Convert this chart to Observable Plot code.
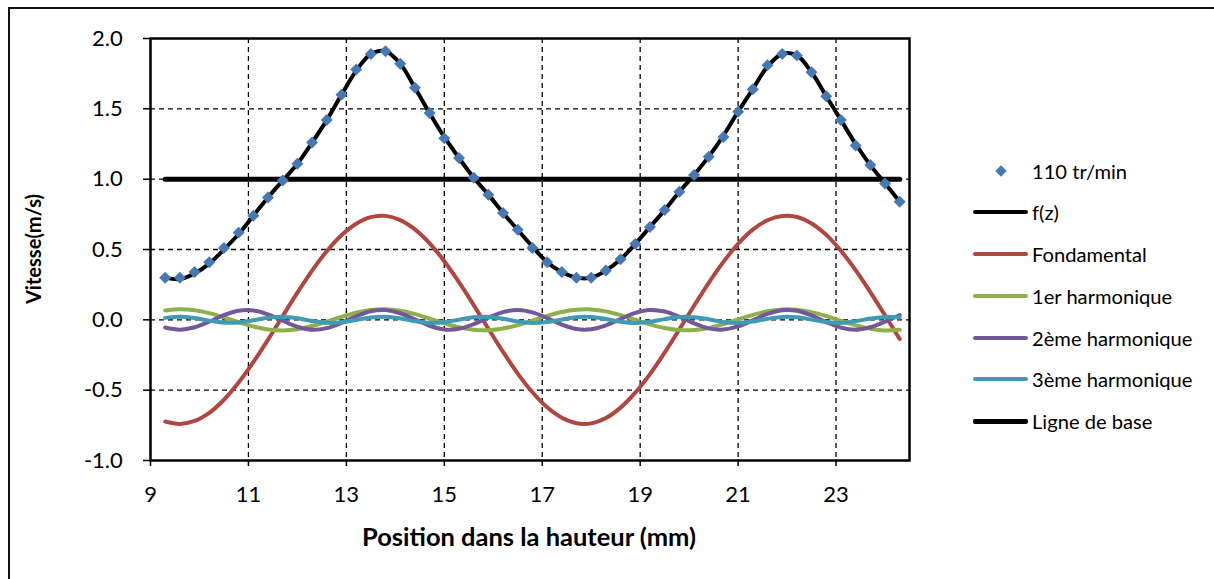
<!DOCTYPE html>
<html><head><meta charset="utf-8">
<script src="https://cdn.jsdelivr.net/npm/d3@7"></script>
<script src="https://cdn.jsdelivr.net/npm/@observablehq/plot@0.6"></script>
<style>
body{margin:0;background:#fff;font-family:Lato,"Open Sans",sans-serif;color:#000;}
#wrap{position:relative;width:1214px;height:579px;overflow:hidden;background:#fff;}
#border{position:absolute;left:8px;top:7px;width:1300px;height:700px;border-top:2px solid #111;border-left:2px solid #111;}
#chart{position:absolute;left:0;top:0;}
.ytitle{position:absolute;left:33px;top:249px;transform:translate(-50%,-50%) rotate(-90deg);font-weight:bold;font-size:19px;white-space:nowrap;}
.xtitle{position:absolute;left:529px;top:536px;transform:translate(-50%,-50%);font-weight:bold;font-size:19px;white-space:nowrap;}
.item{position:absolute;left:973px;height:24px;display:flex;align-items:center;font-size:17px;white-space:nowrap;transform:translateY(-50%);}
.sw{width:55px;height:4px;border-radius:2px;margin-right:4px;flex:none;}
.dm{width:55px;margin-right:4px;display:flex;justify-content:center;flex:none;}
.dm span{display:block;width:8px;height:8px;background:#4678B4;transform:rotate(45deg);}
</style>
</head><body>
<div id="wrap">
  <div id="border"></div>
  <div id="chart"></div>
  <div class="ytitle" id="ytitle">Vitesse(m/s)</div>
  <div class="xtitle" id="xtitle">Position dans la hauteur (mm)</div>
  <div id="legend"></div>
</div>
<script>
const positions = [9.3,9.6,9.9,10.2,10.5,10.8,11.1,11.4,11.7,12.0,12.3,12.6,12.9,13.2,13.5,13.8,14.1,14.4,14.7,15.0,15.3,15.6,15.9,16.2,16.5,16.8,17.1,17.4,17.7,18.0,18.3,18.6,18.9,19.2,19.5,19.8,20.1,20.4,20.7,21.0,21.3,21.6,21.9,22.2,22.5,22.8,23.1,23.4,23.7,24.0,24.3];
const measured = [0.30,0.30,0.34,0.41,0.51,0.62,0.74,0.87,0.99,1.11,1.26,1.42,1.60,1.78,1.89,1.91,1.82,1.65,1.47,1.29,1.15,1.01,0.89,0.76,0.64,0.51,0.41,0.34,0.30,0.30,0.35,0.43,0.54,0.66,0.78,0.91,1.03,1.16,1.30,1.48,1.64,1.81,1.89,1.88,1.76,1.59,1.42,1.24,1.10,0.97,0.84];
const fz = [0.30,0.29,0.33,0.40,0.50,0.61,0.74,0.87,0.99,1.11,1.26,1.42,1.60,1.77,1.89,1.91,1.82,1.65,1.47,1.30,1.15,1.01,0.89,0.76,0.64,0.52,0.41,0.34,0.30,0.30,0.35,0.43,0.54,0.66,0.78,0.91,1.03,1.16,1.31,1.48,1.64,1.80,1.89,1.88,1.76,1.59,1.42,1.25,1.10,0.97,0.84];
const fondamental = [-0.723,-0.740,-0.719,-0.661,-0.568,-0.446,-0.301,-0.141,0.027,0.193,0.350,0.488,0.601,0.683,0.730,0.739,0.709,0.643,0.544,0.417,0.268,0.105,-0.063,-0.228,-0.382,-0.515,-0.622,-0.696,-0.735,-0.736,-0.698,-0.624,-0.518,-0.386,-0.233,-0.068,0.100,0.263,0.412,0.541,0.641,0.708,0.738,0.731,0.685,0.604,0.491,0.353,0.197,0.032,-0.136];
const harm1 = [0.066,0.075,0.068,0.048,0.017,-0.017,-0.047,-0.068,-0.075,-0.067,-0.044,-0.013,0.021,0.050,0.070,0.075,0.065,0.041,0.009,-0.024,-0.053,-0.071,-0.074,-0.062,-0.038,-0.005,0.028,0.056,0.072,0.074,0.060,0.034,0.001,-0.032,-0.058,-0.073,-0.073,-0.058,-0.031,0.003,0.035,0.061,0.074,0.072,0.055,0.027,-0.007,-0.039,-0.063,-0.075,-0.071];
const harm2 = [-0.055,-0.070,-0.053,-0.013,0.034,0.065,0.067,0.039,-0.006,-0.049,-0.070,-0.059,-0.022,0.025,0.061,0.069,0.047,0.003,-0.042,-0.068,-0.064,-0.031,0.016,0.055,0.070,0.053,0.013,-0.034,-0.065,-0.067,-0.039,0.006,0.049,0.070,0.059,0.022,-0.025,-0.061,-0.069,-0.047,-0.003,0.042,0.068,0.064,0.031,-0.016,-0.055,-0.070,-0.053,-0.013,0.034];
const harm3 = [0.014,0.022,0.013,-0.006,-0.020,-0.019,-0.003,0.015,0.022,0.011,-0.008,-0.021,-0.018,-0.001,0.017,0.022,0.010,-0.010,-0.022,-0.017,0.001,0.018,0.021,0.008,-0.012,-0.022,-0.015,0.003,0.019,0.020,0.006,-0.013,-0.022,-0.014,0.005,0.020,0.019,0.004,-0.015,-0.022,-0.012,0.007,0.021,0.018,0.002,-0.016,-0.022,-0.010,0.009,0.021,0.017];
const baselineX = [9.3, 24.3];
const baselineY = [1.0, 1.0];
const xTicks = [9,11,13,15,17,19,21,23];
const yTicks = [-1.0,-0.5,0.0,0.5,1.0,1.5,2.0];
const seriesNames = ["110 tr/min","f(z)","Fondamental","1er harmonique","2ème harmonique","3ème harmonique","Ligne de base"];
const seriesColors = ["#4678B4","#000000","#B0463F","#8DB04A","#72589A","#3E9BB3","#000000"];

const rows = positions.map((x,i)=>({x, m:measured[i], fz:fz[i], f:fondamental[i], h1:harm1[i], h2:harm2[i], h3:harm3[i]}));
const base = baselineX.map((x,i)=>({x, y:baselineY[i]}));
const lineOpts = (key, color, w) => ({x:"x", y:key, stroke:color, strokeWidth:w, curve:"catmull-rom", strokeLinecap:"round", strokeLinejoin:"round"});

const chart = Plot.plot({
  width:1214, height:579,
  marginLeft:150, marginTop:38, marginRight:305, marginBottom:119,
  x:{domain:[9,24.5]},
  y:{domain:[-1,2]},
  style:{fontFamily:"Lato, 'Open Sans', sans-serif", fontSize:"22px", color:"#000", background:"transparent", overflow:"visible"},
  marks:[
    Plot.gridX(xTicks.filter(d=>d>9), {stroke:"#000", strokeOpacity:1, strokeWidth:1.3, strokeDasharray:"5,4"}),
    Plot.gridY(yTicks.filter(d=>d>-1 && d<2), {stroke:"#000", strokeOpacity:1, strokeWidth:1.3, strokeDasharray:"5,4"}),
    Plot.axisY(yTicks, {tickSize:7, tickPadding:20, tickFormat:d=>d.toFixed(1), label:null, stroke:"#000", strokeWidth:1.5, fontVariant:"normal"}),
    Plot.axisX(xTicks, {tickSize:6, tickPadding:19, tickFormat:d=>String(d), label:null, stroke:"#000", strokeWidth:1.5, fontVariant:"normal"}),
    Plot.frame({stroke:"#000", strokeWidth:2.5}),
    Plot.line(rows, lineOpts("fz","#000000",4)),
    Plot.line(rows, lineOpts("f","#B0463F",4)),
    Plot.line(rows, lineOpts("h1","#8DB04A",4)),
    Plot.line(rows, lineOpts("h2","#72589A",4)),
    Plot.line(rows, lineOpts("h3","#3E9BB3",4)),
    Plot.line(base, {x:"x", y:"y", stroke:"#000", strokeWidth:5, strokeLinecap:"round"}),
    Plot.dot(rows, {x:"x", y:"m", symbol:"diamond2", r:5.4, fill:"#4678B4", stroke:"none"})
  ]
});
document.getElementById("chart").appendChild(chart);

// place tick label groups precisely: y labels end at x=123, x labels centred at y=493
const svgRect = chart.getBoundingClientRect();
const groupsWith = s => [...chart.querySelectorAll("g")].filter(g => [...g.querySelectorAll(":scope > text")].some(t => t.textContent === s));
groupsWith("-0.5").forEach(g => {
  const r = g.getBoundingClientRect();
  const shift = 123 - (r.right - svgRect.left);
  g.setAttribute("transform", (g.getAttribute("transform")||"") + ` translate(${shift},0)`);
});
groupsWith("17").forEach(g => {
  const r = g.getBoundingClientRect();
  const shift = 493 - ((r.top + r.bottom)/2 - svgRect.top);
  g.setAttribute("transform", (g.getAttribute("transform")||"") + ` translate(0,${shift})`);
});

function fit(el, target){
  const fs = parseFloat(getComputedStyle(el).fontSize);
  el.style.fontSize = (fs * target / el.offsetWidth) + "px";
}
fit(document.getElementById("xtitle"), 334);
fit(document.getElementById("ytitle"), 110);

const legendY = [171,212,254,296,338,379,421];
const lg = document.getElementById("legend");
const texts = [];
seriesNames.forEach((name,i)=>{
  const it = document.createElement("div");
  it.className = "item";
  it.style.top = legendY[i] + "px";
  const sw = document.createElement("div");
  if (i === 0) { sw.className = "dm"; sw.appendChild(document.createElement("span")); }
  else { sw.className = "sw"; sw.style.background = seriesColors[i]; if (i===6) sw.style.height = "5px"; }
  it.appendChild(sw);
  const t = document.createElement("span");
  t.textContent = name;
  it.appendChild(t);
  lg.appendChild(it);
  texts.push(t);
});
const k = 115 / texts[2].offsetWidth;
document.querySelectorAll(".item").forEach(it => { it.style.fontSize = (17 * k) + "px"; });
</script>
</body></html>
